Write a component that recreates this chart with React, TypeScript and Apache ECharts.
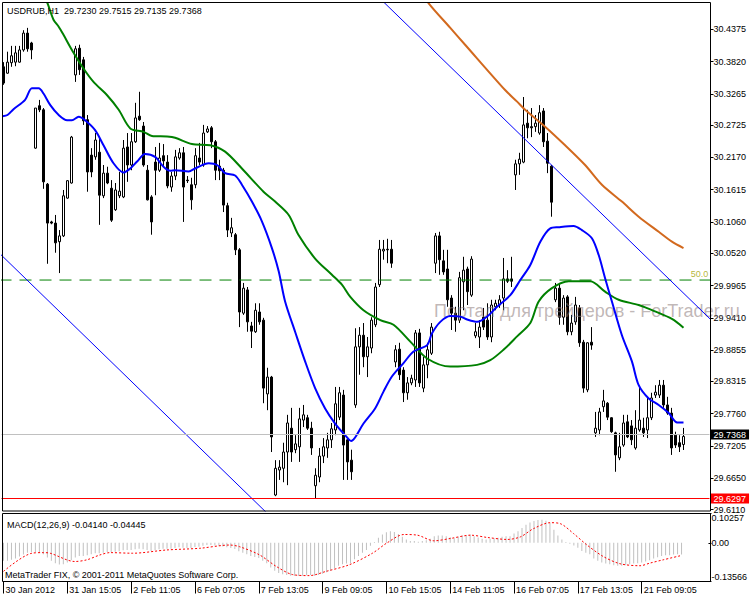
import React, { useEffect, useRef } from 'react';
import * as echarts from 'echarts';

const FONT = "'Liberation Sans', Arial, sans-serif";
const SLOTS = 177;
const LABEL_STEP = 16;
const timeLabels = ['30 Jan 2012', '31 Jan 15:05', '2 Feb 11:05', '6 Feb 07:05', '7 Feb 13:05', '9 Feb 09:05', '10 Feb 15:05', '14 Feb 11:05', '16 Feb 07:05', '17 Feb 13:05', '21 Feb 09:05'];

const PRICE_MIN = 29.6085;
const PRICE_MAX = 30.4828;
const priceTicks = [29.611, 29.665, 29.7205, 29.776, 29.8315, 29.8855, 29.941, 29.9965, 30.052, 30.106, 30.1615, 30.217, 30.2725, 30.3265, 30.382, 30.4375];
const MACD_MIN = -0.13566;
const MACD_MAX = 0.10257;
const macdTicks = [-0.13566, 0, 0.10257];

const fiboLevel = 30.006;
const fiboLabel = '50.0';
const lastPrice = 29.7368;
const lowLine = 29.6297;

// [open, close, low, high]
const candles = [
  [30.373, 30.345, 30.342, 30.381], [30.362, 30.381, 30.361, 30.399], [30.380, 30.392, 30.373, 30.409], [30.381, 30.397, 30.374, 30.409],
  [30.381, 30.402, 30.380, 30.409], [30.402, 30.431, 30.399, 30.436], [30.431, 30.404, 30.399, 30.440], [30.414, 30.402, 30.386, 30.416],
  [30.233, 30.302, 30.232, 30.302], [30.306, 30.299, 30.295, 30.316], [30.299, 30.175, 30.163, 30.302], [30.171, 30.104, 30.034, 30.173],
  [30.106, 30.104, 30.102, 30.108], [30.104, 30.070, 30.053, 30.118], [30.072, 30.082, 30.018, 30.092], [30.082, 30.151, 30.080, 30.161],
  [30.147, 30.177, 30.146, 30.178], [30.173, 30.252, 30.172, 30.254], [30.359, 30.404, 30.347, 30.409], [30.405, 30.368, 30.359, 30.411],
  [30.385, 30.280, 30.273, 30.390], [30.282, 30.192, 30.158, 30.290], [30.221, 30.192, 30.183, 30.233], [30.218, 30.247, 30.213, 30.259],
  [30.226, 30.152, 30.101, 30.252], [30.151, 30.190, 30.147, 30.204], [30.190, 30.173, 30.171, 30.201], [30.164, 30.109, 30.106, 30.178],
  [30.127, 30.161, 30.125, 30.173], [30.151, 30.159, 30.147, 30.192], [30.149, 30.233, 30.147, 30.247], [30.235, 30.204, 30.175, 30.259],
  [30.204, 30.244, 30.195, 30.259], [30.244, 30.285, 30.242, 30.311], [30.288, 30.282, 30.280, 30.330], [30.271, 30.204, 30.201, 30.278],
  [30.195, 30.144, 30.143, 30.204], [30.149, 30.106, 30.084, 30.152], [30.209, 30.195, 30.152, 30.235], [30.195, 30.216, 30.192, 30.242],
  [30.220, 30.211, 30.201, 30.240], [30.209, 30.168, 30.164, 30.221], [30.166, 30.185, 30.158, 30.192], [30.185, 30.218, 30.178, 30.230],
  [30.216, 30.225, 30.213, 30.233], [30.225, 30.166, 30.106, 30.235], [30.178, 30.177, 30.173, 30.185], [30.170, 30.144, 30.127, 30.182],
  [30.170, 30.220, 30.164, 30.233], [30.216, 30.209, 30.204, 30.242], [30.204, 30.259, 30.201, 30.273], [30.261, 30.266, 30.259, 30.271],
  [30.268, 30.244, 30.233, 30.271], [30.244, 30.195, 30.178, 30.247], [30.202, 30.194, 30.178, 30.213], [30.195, 30.135, 30.123, 30.199],
  [30.134, 30.092, 30.080, 30.139], [30.087, 30.096, 30.080, 30.113], [30.084, 30.058, 30.049, 30.087], [30.058, 29.951, 29.925, 30.061],
  [29.949, 29.992, 29.946, 30.001], [29.989, 29.934, 29.917, 29.994], [29.927, 29.918, 29.889, 29.934], [29.917, 29.954, 29.915, 29.966],
  [29.951, 29.934, 29.929, 29.966], [29.937, 29.820, 29.794, 29.941], [29.810, 29.839, 29.782, 29.855], [29.839, 29.736, 29.710, 29.841],
  [29.636, 29.682, 29.634, 29.696], [29.679, 29.684, 29.662, 29.696], [29.682, 29.710, 29.658, 29.726], [29.710, 29.760, 29.653, 29.774],
  [29.751, 29.710, 29.693, 29.786], [29.714, 29.724, 29.708, 29.739], [29.719, 29.767, 29.693, 29.786], [29.765, 29.774, 29.753, 29.791],
  [29.769, 29.751, 29.748, 29.774], [29.751, 29.717, 29.705, 29.762], [29.652, 29.670, 29.6297, 29.682], [29.667, 29.703, 29.658, 29.717],
  [29.703, 29.719, 29.691, 29.734], [29.717, 29.731, 29.700, 29.743], [29.731, 29.750, 29.717, 29.760], [29.748, 29.793, 29.739, 29.822],
  [29.770, 29.812, 29.765, 29.822], [29.808, 29.722, 29.662, 29.817], [29.731, 29.693, 29.662, 29.734], [29.696, 29.676, 29.662, 29.714],
  [29.791, 29.891, 29.786, 29.923], [29.891, 29.911, 29.843, 29.925], [29.911, 29.874, 29.856, 29.932], [29.874, 29.891, 29.839, 29.908],
  [29.889, 29.937, 29.880, 29.942], [29.929, 29.994, 29.925, 30.001], [29.998, 30.059, 29.994, 30.075], [30.056, 30.059, 30.041, 30.075],
  [30.059, 30.058, 30.035, 30.077], [30.059, 30.035, 30.027, 30.075], [29.865, 29.886, 29.856, 29.894], [29.887, 29.843, 29.834, 29.898],
  [29.851, 29.812, 29.796, 29.856], [29.812, 29.829, 29.800, 29.839], [29.829, 29.837, 29.825, 29.843], [29.834, 29.915, 29.822, 29.920],
  [29.915, 29.829, 29.822, 29.922], [29.820, 29.860, 29.813, 29.874], [29.860, 29.886, 29.837, 29.898], [29.880, 29.925, 29.877, 29.932],
  [30.035, 30.082, 30.018, 30.087], [30.082, 30.041, 30.015, 30.089], [30.039, 30.020, 30.015, 30.058], [30.025, 29.972, 29.960, 30.058],
  [29.975, 29.949, 29.920, 29.980], [29.949, 29.937, 29.917, 29.960], [29.937, 30.010, 29.932, 30.020], [30.003, 30.023, 29.954, 30.046],
  [30.025, 29.986, 29.963, 30.029], [29.980, 30.042, 29.977, 30.047], [29.910, 29.917, 29.906, 29.932], [29.908, 29.925, 29.889, 29.937],
  [29.942, 29.925, 29.920, 29.958], [29.937, 29.908, 29.903, 29.966], [29.908, 29.963, 29.899, 29.972], [29.960, 29.966, 29.954, 29.972],
  [29.963, 29.972, 29.958, 29.980], [29.975, 30.008, 29.954, 30.044], [30.008, 30.004, 30.001, 30.023], [30.008, 30.004, 29.994, 30.046],
  [30.187, 30.206, 30.161, 30.213], [30.206, 30.214, 30.187, 30.225], [30.209, 30.273, 30.207, 30.321], [30.276, 30.268, 30.250, 30.299],
  [30.270, 30.268, 30.252, 30.302], [30.270, 30.276, 30.261, 30.290], [30.259, 30.294, 30.256, 30.307], [30.297, 30.244, 30.235, 30.302],
  [30.245, 30.207, 30.190, 30.259], [30.202, 30.140, 30.115, 30.204], [29.972, 29.992, 29.968, 30.001], [29.992, 29.942, 29.929, 30.001],
  [29.942, 29.975, 29.929, 29.980], [29.977, 29.917, 29.911, 29.980], [29.917, 29.932, 29.911, 29.946], [29.934, 29.963, 29.929, 29.977],
  [29.958, 29.898, 29.891, 29.963], [29.899, 29.820, 29.812, 29.903], [29.817, 29.898, 29.813, 29.899], [29.899, 29.894, 29.886, 29.925],
  [29.743, 29.751, 29.736, 29.779], [29.748, 29.779, 29.739, 29.786], [29.788, 29.798, 29.779, 29.817], [29.794, 29.770, 29.765, 29.796],
  [29.769, 29.745, 29.743, 29.770], [29.743, 29.705, 29.676, 29.745], [29.700, 29.719, 29.696, 29.743], [29.722, 29.760, 29.719, 29.774],
  [29.762, 29.736, 29.734, 29.774], [29.755, 29.731, 29.722, 29.765], [29.717, 29.751, 29.714, 29.782], [29.748, 29.765, 29.745, 29.822],
  [29.751, 29.743, 29.736, 29.769], [29.748, 29.769, 29.734, 29.805], [29.769, 29.803, 29.765, 29.812], [29.808, 29.813, 29.803, 29.825],
  [29.808, 29.825, 29.803, 29.834], [29.825, 29.791, 29.786, 29.834], [29.791, 29.777, 29.774, 29.805], [29.777, 29.717, 29.705, 29.786],
  [29.739, 29.722, 29.717, 29.745], [29.726, 29.719, 29.710, 29.739], [29.7230, 29.7368, 29.7135, 29.7515],
];

// moving averages: [bar index, price]
const maBlue = [
  [-0.2, 30.288], [1.0, 30.290], [2.5, 30.300], [5.4, 30.316], [7.1, 30.336], [8.8, 30.336], [10.0, 30.327], [11.7, 30.307],
  [13.8, 30.290], [15.9, 30.281], [17.1, 30.281], [18.8, 30.287], [20.4, 30.281], [22.9, 30.264], [25.0, 30.238], [27.5, 30.207],
  [30.0, 30.191], [31.7, 30.198], [33.4, 30.210], [35.4, 30.223], [37.9, 30.218], [40.0, 30.201], [41.7, 30.194], [42.9, 30.195],
  [46.3, 30.193], [47.9, 30.198], [51.3, 30.207], [53.4, 30.204], [55.4, 30.190], [57.9, 30.186], [59.6, 30.170], [62.1, 30.141],
  [64.6, 30.107], [67.1, 30.061], [68.8, 30.021], [70.4, 29.969], [72.9, 29.917], [75.4, 29.866], [77.9, 29.820], [80.4, 29.785],
  [82.9, 29.759], [85.4, 29.739], [86.9, 29.729], [87.9, 29.735], [90.0, 29.759], [92.9, 29.785], [95.0, 29.814], [97.1, 29.840],
  [100.0, 29.863], [102.5, 29.883], [105.9, 29.894], [107.1, 29.914], [109.2, 29.934], [111.7, 29.944], [114.2, 29.943], [115.9, 29.938],
  [118.4, 29.934], [120.9, 29.943], [123.4, 29.960], [126.7, 29.980], [129.2, 30.006], [131.7, 30.032], [134.2, 30.072], [136.7, 30.095],
  [138.8, 30.097], [142.5, 30.099], [144.6, 30.092], [147.1, 30.078], [148.8, 30.049], [150.4, 30.009], [152.1, 29.969], [154.6, 29.911],
  [157.1, 29.866], [158.8, 29.825], [161.3, 29.802], [163.8, 29.791], [166.3, 29.777], [168.4, 29.761], [170.0, 29.761],
];
const maGreen = [
  [9.2, 30.505], [10.85, 30.485], [12.5, 30.454], [13.8, 30.442], [15.0, 30.428], [17.1, 30.402], [20.0, 30.370], [22.5, 30.347],
  [25.9, 30.324], [28.8, 30.299], [31.7, 30.267], [35.0, 30.261], [37.1, 30.254], [40.9, 30.253], [42.9, 30.251], [47.1, 30.240],
  [51.7, 30.238], [55.4, 30.227], [59.6, 30.198], [65.0, 30.158], [67.9, 30.141], [71.3, 30.118], [73.8, 30.083], [77.9, 30.043],
  [82.1, 30.015], [84.6, 29.998], [86.7, 29.977], [90.0, 29.954], [94.2, 29.937], [97.5, 29.929], [101.7, 29.900], [105.9, 29.871],
  [111.7, 29.857], [118.4, 29.860], [121.7, 29.868], [125.0, 29.886], [128.4, 29.909], [131.7, 29.932], [133.8, 29.969], [137.1, 29.992],
  [141.3, 30.004], [146.7, 30.004], [150.4, 29.986], [153.8, 29.972], [158.8, 29.963], [162.9, 29.952], [167.1, 29.939], [170.0, 29.924],
];
const maOrange = [
  [105.0, 30.500], [106.2, 30.483], [111.7, 30.440], [115.4, 30.411], [125.4, 30.333], [128.4, 30.313], [130.4, 30.299], [135.4, 30.270],
  [140.4, 30.238], [145.4, 30.204], [149.6, 30.170], [154.6, 30.141], [158.8, 30.115], [163.8, 30.089], [167.1, 30.072], [170.0, 30.061],
];
const channelLow = [[-1, 30.052], [66, 29.604]];
const channelHigh = [[93, 30.498], [178, 29.930]];
const fiboSpan = [-1, 178];
const fiboLabelAt = 174;

const macdHist = [
  -0.0633, -0.0633, -0.0598, -0.0552, -0.0483, -0.0414, -0.0345, -0.0322, -0.0322, -0.0345,
  -0.0403, -0.0518, -0.0633, -0.0714, -0.0760, -0.0748, -0.0691, -0.0610, -0.0518, -0.0460,
  -0.0460, -0.0437, -0.0403, -0.0368, -0.0368, -0.0345, -0.0322, -0.0322, -0.0311, -0.0299,
  -0.0265, -0.0253, -0.0253, -0.0230, -0.0207, -0.0230, -0.0253, -0.0288, -0.0265, -0.0230,
  -0.0207, -0.0207, -0.0207, -0.0184, -0.0161, -0.0173, -0.0184, -0.0184, -0.0150, -0.0138,
  -0.0104, -0.0081, -0.0081, -0.0092, -0.0104, -0.0127, -0.0161, -0.0184, -0.0219, -0.0299,
  -0.0345, -0.0403, -0.0460, -0.0495, -0.0529, -0.0633, -0.0714, -0.0863, -0.0978, -0.1059,
  -0.1105, -0.1128, -0.1151, -0.1162, -0.1162, -0.1151, -0.1139, -0.1128, -0.1151, -0.1128,
  -0.1082, -0.1036, -0.0978, -0.0898, -0.0806, -0.0748, -0.0725, -0.0714, -0.0575, -0.0460,
  -0.0345, -0.0253, -0.0100, 0.0030, 0.0173, 0.0288, 0.0368, 0.0403, 0.0380, 0.0311,
  0.0207, 0.0115, 0.0058, 0.0058, 0.0035, 0.0058, 0.0092, 0.0138, 0.0230, 0.0253,
  0.0253, 0.0230, 0.0196, 0.0161, 0.0207, 0.0253, 0.0253, 0.0288, 0.0230, 0.0184,
  0.0138, 0.0115, 0.0138, 0.0161, 0.0173, 0.0207, 0.0230, 0.0230, 0.0322, 0.0403,
  0.0518, 0.0633, 0.0714, 0.0760, 0.0794, 0.0806, 0.0771, 0.0691, 0.0460, 0.0253,
  0.0115, 0.0023, -0.0035, -0.0092, -0.0173, -0.0288, -0.0345, -0.0403, -0.0552, -0.0633,
  -0.0691, -0.0725, -0.0748, -0.0783, -0.0806, -0.0806, -0.0783, -0.0748, -0.0725, -0.0714,
  -0.0691, -0.0656, -0.0610, -0.0552, -0.0506, -0.0460, -0.0437, -0.0437, -0.0414, -0.0403,
  -0.0414,
];
const macdSignal = [
  [0, -0.1001], [7.1, -0.0366], [10.0, -0.0345], [11.7, -0.0366], [17.9, -0.0656], [20.9, -0.0597], [24.2, -0.0425], [26.7, -0.0345],
  [32.4, -0.0366], [40.9, -0.0252], [49.2, -0.0193], [56.7, -0.0079], [59.2, -0.0138], [64.2, -0.0425], [68.4, -0.0829], [72.5, -0.1115],
  [76.7, -0.1150], [80.9, -0.1001], [86.7, -0.0770], [92.5, -0.0366], [96.2, 0.0000], [100.4, 0.0290], [103.8, 0.0266], [107.9, 0.0069],
  [112.1, 0.0152], [117.1, 0.0266], [121.3, 0.0186], [126.3, 0.0117], [129.6, 0.0207], [132.9, 0.0497], [137.1, 0.0704], [139.6, 0.0670],
  [142.9, 0.0325], [146.3, -0.0079], [150.4, -0.0483], [154.6, -0.0735], [159.6, -0.0804], [162.1, -0.0711], [165.4, -0.0597], [170.0, -0.04445],
];

const titleText = 'USDRUB,H1  29.7230 29.7515 29.7135 29.7368';
const macdText = 'MACD(12,26,9) -0.04140 -0.04445';
const copyrightText = 'MetaTrader FIX, © 2001-2011 MetaQuotes Software Corp.';
const watermarkText = 'Портал для трейдеров - ForTrader.ru';

export default function App() {
  const ref = useRef<HTMLDivElement>(null);
  useEffect(() => {
    const chart = echarts.init(ref.current!, null, { renderer: 'svg' });
    const cats = Array.from({ length: SLOTS }, (_, i) => String(i));
    const labelInterval = (i: number) => i % LABEL_STEP === 0 && i / LABEL_STEP < timeLabels.length;
    const axisFont = { fontSize: 9, color: '#000', fontFamily: FONT };
    const boxLabel = (bg: string, v: number) => ({
      show: true, position: 'end', distance: 1, formatter: v.toFixed(4),
      color: '#fff', backgroundColor: bg, padding: [1, 3, 0, 3], fontSize: 9, fontFamily: FONT,
    });
    const option: any = {
      animation: false,
      backgroundColor: '#fff',
      textStyle: { fontFamily: FONT },
      grid: [
        { left: 1.5, top: 3, width: 708, height: 508 },
        { left: 1.5, top: 513.5, width: 708, height: 68 },
      ],
      xAxis: [
        { type: 'category', gridIndex: 0, data: cats, show: false, boundaryGap: true },
        { type: 'value', gridIndex: 0, min: -0.5, max: SLOTS - 0.5, show: false },
        {
          type: 'category', gridIndex: 1, data: cats, boundaryGap: true, position: 'bottom',
          axisLine: { show: false, onZero: false },
          axisTick: { show: true, alignWithLabel: true, interval: labelInterval, length: 12, lineStyle: { color: '#000' } },
          axisLabel: {
            ...axisFont, interval: labelInterval, align: 'left', margin: 4, padding: [0, 0, 0, 2],
            formatter: (_v: string, i: number) => timeLabels[i / LABEL_STEP] ?? '',
          },
        },
        { type: 'value', gridIndex: 1, min: -0.5, max: SLOTS - 0.5, show: false },
      ],
      yAxis: [
        {
          type: 'value', gridIndex: 0, position: 'right', min: PRICE_MIN, max: PRICE_MAX, offset: 1, scale: true,
          splitLine: { show: false }, axisLine: { show: false, onZero: false },
          axisTick: { show: true, length: 3, customValues: priceTicks, lineStyle: { color: '#000' } },
          axisLabel: { ...axisFont, customValues: priceTicks, margin: 3, formatter: (v: number) => v.toFixed(4), showMinLabel: true, showMaxLabel: true },
        },
        {
          type: 'value', gridIndex: 1, position: 'right', min: MACD_MIN, max: MACD_MAX, offset: 1,
          splitLine: { show: false }, axisLine: { show: false, onZero: false },
          axisTick: { show: true, length: 3, customValues: macdTicks, lineStyle: { color: '#000' } },
          axisLabel: {
            ...axisFont, customValues: macdTicks, margin: 3, showMinLabel: true, showMaxLabel: true,
            formatter: (v: number) => (v === 0 ? '0.00' : v.toFixed(5)),
            verticalAlignMinLabel: 'bottom', verticalAlignMaxLabel: 'top',
          },
        },
      ],
      series: [
        {
          type: 'candlestick', xAxisIndex: 0, yAxisIndex: 0, data: candles, barWidth: 2, z: 2,
          itemStyle: { color: '#ffffff', color0: '#000000', borderColor: '#000000', borderColor0: '#000000', borderWidth: 1 },
          markLine: {
            silent: true, symbol: ['none', 'none'], animation: false,
            data: [
              { yAxis: lastPrice, lineStyle: { color: '#c0c0c0', type: 'solid', width: 1 }, label: boxLabel('#000000', lastPrice) },
              { yAxis: lowLine, lineStyle: { color: '#ff0000', type: 'solid', width: 1 }, label: boxLabel('#ff0000', lowLine) },
            ],
          },
        },
        {
          type: 'line', xAxisIndex: 1, yAxisIndex: 0, data: fiboSpan.map((x) => [x, fiboLevel]), showSymbol: false, z: 3, clip: true,
          lineStyle: { color: '#008000', width: 1, type: [12, 8] },
        },
        {
          type: 'scatter', xAxisIndex: 1, yAxisIndex: 0, data: [[fiboLabelAt, fiboLevel]], symbol: 'rect', symbolSize: 1, z: 3,
          itemStyle: { color: 'rgba(0,0,0,0)' }, silent: true,
          label: { show: true, formatter: fiboLabel, position: 'top', distance: 1, color: '#a3a300', fontSize: 9, fontFamily: FONT },
        },
        { type: 'line', xAxisIndex: 1, yAxisIndex: 0, data: channelLow, showSymbol: false, lineStyle: { color: '#0000ff', width: 1 }, z: 3, clip: true },
        { type: 'line', xAxisIndex: 1, yAxisIndex: 0, data: channelHigh, showSymbol: false, lineStyle: { color: '#0000ff', width: 1 }, z: 3, clip: true },
        { type: 'line', xAxisIndex: 1, yAxisIndex: 0, data: maOrange, smooth: 0.3, showSymbol: false, lineStyle: { color: '#d2691e', width: 2 }, z: 4, clip: true },
        { type: 'line', xAxisIndex: 1, yAxisIndex: 0, data: maGreen, smooth: 0.3, showSymbol: false, lineStyle: { color: '#008000', width: 2 }, z: 4, clip: true },
        { type: 'line', xAxisIndex: 1, yAxisIndex: 0, data: maBlue, smooth: 0.3, showSymbol: false, lineStyle: { color: '#0000ff', width: 2 }, z: 4, clip: true },
        { type: 'bar', xAxisIndex: 2, yAxisIndex: 1, data: macdHist, barWidth: 1, itemStyle: { color: '#c0c0c0' }, z: 2 },
        { type: 'line', xAxisIndex: 3, yAxisIndex: 1, data: macdSignal, smooth: 0.3, showSymbol: false, lineStyle: { color: '#ff0000', width: 1, type: [2, 2] }, z: 3, clip: true },
      ],
      graphic: [
        { type: 'text', left: 434, top: 302, z: 3, silent: true, style: { text: watermarkText, font: `18px ${FONT}`, fill: 'rgba(140,122,122,0.55)' } },
        { type: 'rect', z: 100, silent: true, shape: { x: 2.5, y: 2.5, width: 708, height: 508.5 }, style: { fill: 'none', stroke: '#000', lineWidth: 1 } },
        { type: 'rect', z: 100, silent: true, shape: { x: 2.5, y: 513.5, width: 708, height: 68 }, style: { fill: 'none', stroke: '#000', lineWidth: 1 } },
        { type: 'text', left: 7, top: 6, z: 101, silent: true, style: { text: titleText, font: `9px ${FONT}`, fill: '#000' } },
        { type: 'text', left: 7, top: 520, z: 101, silent: true, style: { text: macdText, font: `9px ${FONT}`, fill: '#000' } },
        { type: 'text', left: 5, top: 570, z: 101, silent: true, style: { text: copyrightText, font: `9px ${FONT}`, fill: '#000' } },
      ],
    };
    chart.setOption(option);
    return () => chart.dispose();
  }, []);
  return <div ref={ref} style={{ position: 'fixed', left: 0, top: 0, width: 750, height: 600, background: '#fff' }} />;
}
